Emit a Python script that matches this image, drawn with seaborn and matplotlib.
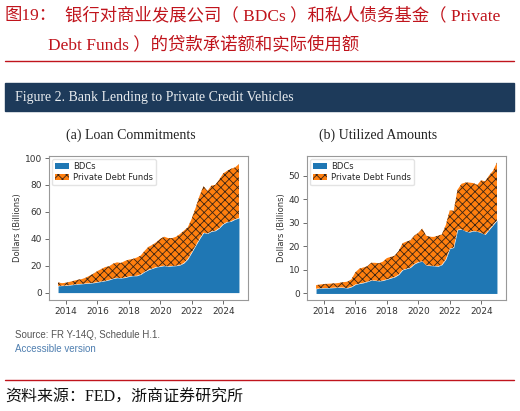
import matplotlib
matplotlib.use('Agg')
import matplotlib.pyplot as plt
import matplotlib.dates as mdates
from matplotlib.lines import Line2D
from matplotlib.patches import Rectangle
import seaborn as sns
import pandas as pd

# ============================================================
# Data (quarterly, 2013Q2 -> 2024Q4), billions of dollars
# ============================================================
quarters = pd.date_range('2013-06-30', '2024-12-31', freq='QE')

loan_bdc = [5.0, 5.2, 5.3, 5.6, 6.0, 6.3, 6.5, 6.8, 7.0, 7.3,
            7.8, 8.3, 8.8, 9.5, 10.5, 11.0, 10.8, 11.2, 12.0, 12.5,
            12.5, 13.5, 15.5, 17.0, 18.0, 19.0, 19.5, 20.0, 19.5, 19.8,
            20.0, 20.5, 22.0, 25.0, 30.0, 35.0, 40.0, 44.5, 44.0, 45.5,
            46.0, 48.0, 51.0, 52.5, 53.0, 54.5, 55.5]
loan_pdf = [2.5, 1.8, 2.0, 2.4, 2.8, 3.2, 3.5, 4.2, 5.5, 6.7,
            8.2, 9.2, 10.2, 10.0, 11.0, 11.5, 11.2, 12.3, 12.5, 12.5,
            13.5, 14.0, 15.5, 17.0, 17.5, 18.5, 20.5, 21.5, 21.0, 20.7,
            21.5, 23.0, 24.0, 23.5, 25.0, 28.0, 32.0, 34.5, 31.5, 34.0,
            34.0, 36.0, 37.5, 38.0, 39.0, 38.5, 40.0]

used_bdc = [2.0, 2.2, 2.3, 2.3, 2.4, 2.5, 2.6, 2.5, 2.3, 2.8,
            3.8, 4.2, 4.5, 5.0, 5.6, 5.5, 5.3, 5.5, 6.0, 6.5,
            7.0, 8.0, 10.0, 10.5, 11.0, 12.5, 13.3, 13.7, 12.0, 11.8,
            11.7, 11.5, 12.2, 14.5, 19.0, 19.5, 27.0, 27.3, 26.4, 26.0,
            26.5, 26.3, 25.7, 25.0, 27.0, 29.0, 31.0]
used_pdf = [1.5, 1.6, 1.7, 1.8, 1.8, 1.8, 1.9, 2.3, 2.7, 3.2,
            5.2, 6.3, 6.5, 6.5, 7.4, 7.5, 7.5, 8.0, 9.0, 9.0,
            9.0, 10.0, 11.3, 11.5, 11.5, 12.0, 12.4, 13.8, 12.5, 12.2,
            12.3, 13.0, 12.8, 14.5, 16.3, 15.5, 17.0, 19.2, 20.6, 21.0,
            20.3, 19.7, 22.3, 22.5, 23.0, 23.0, 24.5]

series_labels = ['BDCs', 'Private Debt Funds']
panel_titles = ['(a) Loan Commitments', '(b) Utilized Amounts']
y_ticks = [[0, 20, 40, 60, 80, 100], [0, 10, 20, 30, 40, 50]]

# ============================================================
# Style
# ============================================================
sns.set_theme(style='ticks')
plt.rcParams['font.family'] = ['DejaVu Sans', 'Noto Sans CJK SC']
plt.rcParams['hatch.linewidth'] = 0.6

RED = '#C0141C'
NAVY = '#1D3A5A'
BLUE = '#1f77b4'
ORANGE = '#ff7f0e'
SERIF_CJK = ['Liberation Serif', 'Noto Sans CJK SC']

W, H = 520, 411
fig = plt.figure(figsize=(W / 100, H / 100), dpi=100)


def fx(px):
    return px / W


def fy(py):
    return 1 - py / H


# header
fig.text(fx(5), fy(16), '图19：', color=RED, fontsize=12.5, family=SERIF_CJK, va='center')
fig.text(fx(65), fy(16), '银行对商业发展公司（ BDCs ）和私人债务基金（ Private',
         color=RED, fontsize=12.5, family=SERIF_CJK, va='center')
fig.text(fx(48), fy(45), 'Debt Funds ）的贷款承诺额和实际使用额',
         color=RED, fontsize=12.5, family=SERIF_CJK, va='center')
fig.add_artist(Line2D([fx(5), fx(514)], [fy(61), fy(61)], color=RED, lw=1.0,
                      transform=fig.transFigure))

# navy band
fig.add_artist(Rectangle((fx(5), fy(111)), fx(509), 28 / H, color=NAVY,
                         transform=fig.transFigure, zorder=0))
fig.text(fx(15), fy(97), 'Figure 2. Bank Lending to Private Credit Vehicles',
         color='#e8ecef', fontsize=10, family='Liberation Serif', va='center')

# panels
panels = [(loan_bdc, loan_pdf, 49), (used_bdc, used_pdf, 307)]
for i, (bdc, pdf, left_px) in enumerate(panels):
    ax = fig.add_axes([fx(left_px), fy(300), fx(199), 144 / H])
    total = [b + p for b, p in zip(bdc, pdf)]
    ax.fill_between(quarters, 0, bdc, facecolor=BLUE, edgecolor=BLUE,
                    linewidth=0, label=series_labels[0])
    ax.fill_between(quarters, bdc, total, facecolor=ORANGE, edgecolor='#3a2414',
                    linewidth=0, hatch='xxxx', label=series_labels[1])
    ax.set_yticks(y_ticks[i])
    if i == 0:
        ax.set_ylim(-5.5, 101.5)
    ax.set_ylabel('Dollars (Billions)', fontsize=6, color='#333333', labelpad=2)
    ax.xaxis.set_major_locator(mdates.YearLocator(2))
    ax.xaxis.set_major_formatter(mdates.DateFormatter('%Y'))
    ax.tick_params(labelsize=6.5, colors='#333333', length=3, width=0.6,
                   color='#555555', pad=2)
    for s in ax.spines.values():
        s.set_color('#999999')
        s.set_linewidth(0.8)
    ax.legend(loc='upper left', fontsize=6, frameon=True, borderpad=0.35,
              handlelength=1.7, handletextpad=0.5, labelspacing=0.3,
              borderaxespad=0.35, fancybox=True, framealpha=0.8,
              edgecolor='#dddddd')
    cx = left_px + 82 if i == 0 else left_px + 71
    fig.text(fx(cx), fy(135), panel_titles[i], fontsize=10,
             family='Liberation Serif', color='#222222', ha='center', va='center')

# footer
fig.text(fx(15), fy(335), 'Source: FR Y-14Q, Schedule H.1.', fontsize=7,
         color='#555555', family='Liberation Sans', va='center')
fig.text(fx(15), fy(349), 'Accessible version', fontsize=7,
         color='#4f7fb0', family='Liberation Sans', va='center')
fig.add_artist(Line2D([fx(5), fx(514)], [fy(380), fy(380)], color=RED, lw=1.0,
                      transform=fig.transFigure))
fig.text(fx(5), fy(398), '资料来源：FED，浙商证券研究所', fontsize=11.5,
         color='#111111', family=SERIF_CJK, va='center')

plt.savefig('out.png', dpi=100)
